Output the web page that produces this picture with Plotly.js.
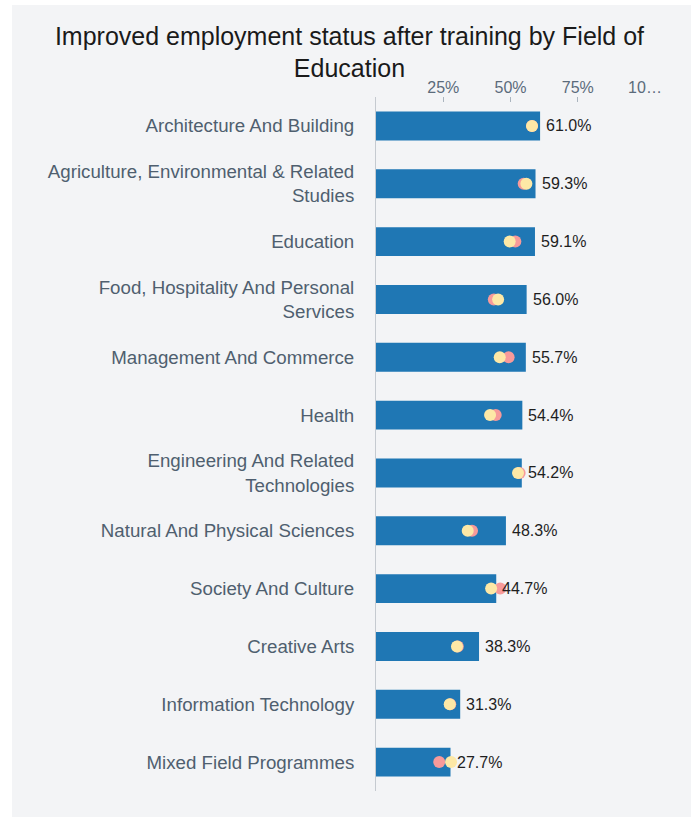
<!DOCTYPE html>
<html>
<head>
<meta charset="utf-8">
<script src="https://cdn.plot.ly/plotly-3.0.1.min.js"></script>
<style>
  html, body { margin: 0; padding: 0; background: #ffffff; }
  #chart { position: absolute; left: 12px; top: 5px; width: 679px; height: 812px; }
</style>
</head>
<body>
<div id="chart"></div>
<script>
const categories = [
  "Architecture And Building",
  "Agriculture, Environmental & Related<br>Studies",
  "Education",
  "Food, Hospitality And Personal<br>Services",
  "Management And Commerce",
  "Health",
  "Engineering And Related<br>Technologies",
  "Natural And Physical Sciences",
  "Society And Culture",
  "Creative Arts",
  "Information Technology",
  "Mixed Field Programmes"
];
const barValues = [0.610, 0.593, 0.591, 0.560, 0.557, 0.544, 0.542, 0.483, 0.447, 0.383, 0.313, 0.277];
const pinkValues = [0.580, 0.549, 0.518, 0.438, 0.493, 0.445, 0.534, 0.357, 0.462, 0.304, 0.276, 0.235];
const yellowValues = [0.580, 0.559, 0.497, 0.454, 0.460, 0.424, 0.528, 0.341, 0.428, 0.301, 0.274, 0.279];
const tickVals = [0, 0.25, 0.5, 0.75, 1];
const tickText = ["", "25%", "50%", "75%", "10…"];

const font = "'Liberation Sans', Arial, sans-serif";

const traces = [
  {
    type: "bar", orientation: "h",
    x: barValues, y: categories,
    marker: { color: "#1f77b4" },
    hoverinfo: "none"
  },
  {
    type: "scatter", mode: "markers",
    x: pinkValues, y: categories,
    marker: { color: "#f79a9a", size: 12 },
    hoverinfo: "none"
  },
  {
    type: "scatter", mode: "markers",
    x: yellowValues, y: categories,
    marker: { color: "#fde8a6", size: 12 },
    hoverinfo: "none"
  }
];

const annotations = barValues.map((v, i) => ({
  x: v, y: categories[i], xref: "x", yref: "y",
  text: (v * 100).toFixed(1) + "%",
  showarrow: false, xanchor: "left", yanchor: "middle", xshift: 4,
  font: { family: font, size: 16, color: "#1e1e1e" }
}));

const layout = {
  width: 679, height: 812,
  paper_bgcolor: "#f3f4f6", plot_bgcolor: "#f3f4f6",
  margin: { l: 364, r: 46, t: 92, b: 26 },
  showlegend: false,
  bargap: 0.5,
  title: {
    text: "Improved employment status after training by Field of<br>Education",
    font: { family: font, size: 25, color: "#1a1a1a" },
    x: 0.497, xanchor: "center", y: 0.951, yanchor: "top"
  },
  xaxis: {
    side: "top", range: [0, 1],
    tickvals: tickVals, ticktext: tickText,
    ticks: "inside", ticklen: 5, tickcolor: "#aab4be", tickwidth: 1,
    showgrid: false, zeroline: false, showline: false,
    tickfont: { family: font, size: 16, color: "#5b6b7b" },
    fixedrange: true
  },
  yaxis: {
    type: "category", range: [11.5, -0.5],
    showline: true, linecolor: "#c5cad0", linewidth: 1,
    ticks: "", showgrid: false, zeroline: false,
    ticklabelstandoff: 17,
    tickfont: { family: font, size: 18.7, color: "#4f5f6f" },
    fixedrange: true
  },
  annotations: annotations
};

Plotly.newPlot("chart", traces, layout, { displayModeBar: false, staticPlot: true });
</script>
</body>
</html>
